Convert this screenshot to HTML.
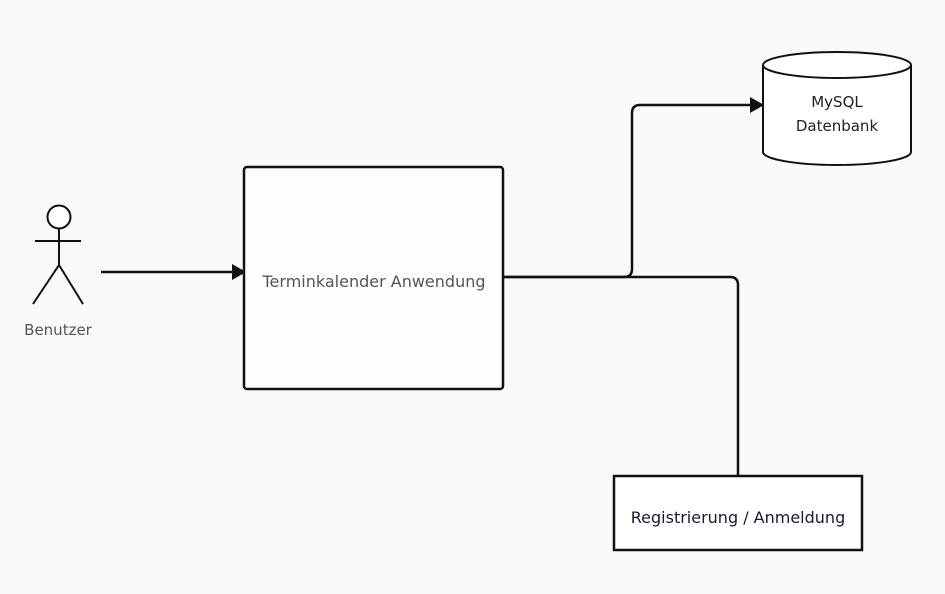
<!DOCTYPE html>
<html><head><meta charset="utf-8"><style>
html,body{margin:0;padding:0;background:#f9f9fb;}
svg{display:block;}
text{font-family:"DejaVu Sans","Liberation Sans",sans-serif;}
</style></head><body>
<svg width="945" height="594" viewBox="0 0 945 594" xmlns="http://www.w3.org/2000/svg">
<rect width="945" height="594" fill="#f9f9fb"/>
<!-- actor -->
<g stroke="#111" stroke-width="2" fill="none">
<circle cx="59" cy="217" r="11.5" fill="#fff"/>
<line x1="35" y1="241" x2="81" y2="241"/>
<line x1="59" y1="229" x2="59" y2="265"/>
<line x1="59" y1="265" x2="33" y2="304"/>
<line x1="59" y1="265" x2="83" y2="304"/>
</g>
<text x="58" y="335" font-size="15" fill="#555" text-anchor="middle">Benutzer</text>
<!-- arrow to main -->
<line x1="101" y1="272" x2="234" y2="272" stroke="#111" stroke-width="2.5"/>
<polygon points="232,264 246,272 232,280" fill="#111"/>
<!-- main box -->
<rect x="244" y="167" width="259" height="222" rx="3" fill="#fdfdfd" stroke="#111" stroke-width="2.5"/>
<text x="374" y="287" font-size="16" fill="#555" text-anchor="middle">Terminkalender Anwendung</text>
<!-- connectors -->
<path d="M503 277 H624 Q632 277 632 269 V113 Q632 105 640 105 H752" fill="none" stroke="#111" stroke-width="2.5"/>
<polygon points="750,97 764,105 750,113" fill="#111"/>
<path d="M503 277 H730 Q738 277 738 285 V476" fill="none" stroke="#111" stroke-width="2.5"/>
<!-- cylinder -->
<path d="M763 65 V152 A74 13 0 0 0 911 152 V65" fill="#fff" stroke="#111" stroke-width="2"/>
<ellipse cx="837" cy="65" rx="74" ry="13" fill="#fff" stroke="#111" stroke-width="2"/>
<text x="837" y="107" font-size="15" fill="#222" text-anchor="middle">MySQL</text>
<text x="837" y="131" font-size="15" fill="#222" text-anchor="middle">Datenbank</text>
<!-- bottom box -->
<rect x="614" y="476" width="248" height="74" fill="#fff" stroke="#111" stroke-width="2.5"/>
<text x="738" y="523" font-size="16" fill="#1a1a2e" text-anchor="middle">Registrierung / Anmeldung</text>
</svg>
</body></html>
